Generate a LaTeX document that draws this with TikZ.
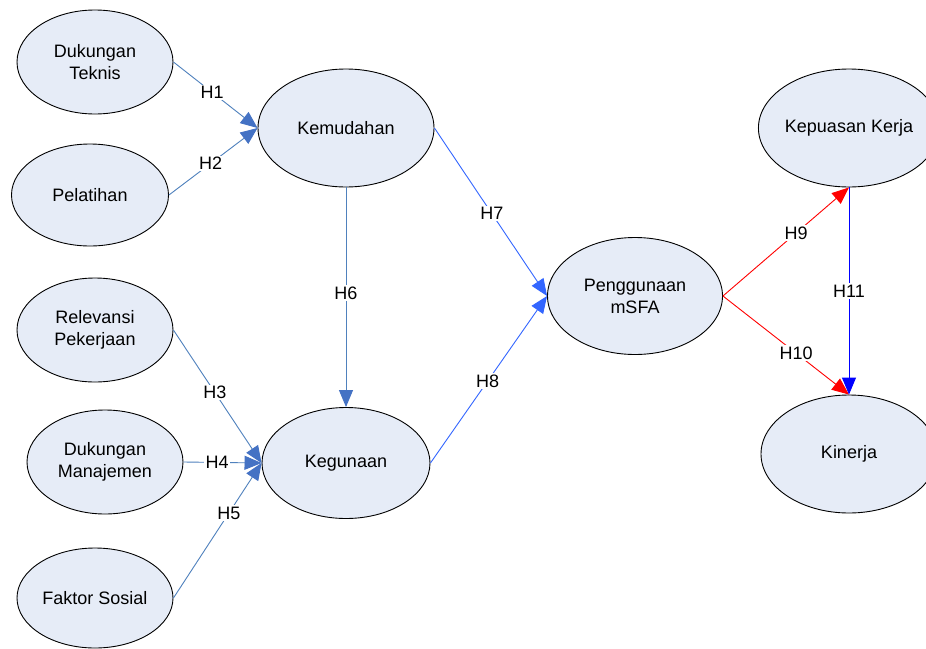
\documentclass[tikz,border=0pt]{standalone}
\usepackage{fontspec}
\setmainfont{Liberation Sans}
\usetikzlibrary{shapes.geometric,arrows.meta}
\definecolor{ellfill}{RGB}{230,236,247}
\definecolor{steel}{RGB}{79,129,189}
\definecolor{steelhead}{RGB}{68,114,196}
\definecolor{bright}{RGB}{51,102,255}
\definecolor{redc}{RGB}{255,0,0}
\definecolor{bluec}{RGB}{0,0,255}
\tikzset{
  construct/.style={ellipse, draw=black, line width=0.9pt, fill=ellfill, inner sep=0pt,
    align=center, font=\fontsize{18}{22}\selectfont},
  hlabel/.style={fill=white, inner sep=1.5pt, font=\fontsize{18}{21}\selectfont},
  steelarrow/.style={draw=steel, line width=0.9pt, -{Triangle[length=17pt,width=14pt,fill=steelhead,color=steelhead]}},
  brightarrow/.style={draw=bright, line width=0.9pt, -{Triangle[length=17pt,width=14pt,fill=bright,color=bright]}},
  redarrow/.style={draw=redc, line width=0.9pt, -{Triangle[length=17pt,width=14pt,fill=redc,color=redc]}},
  bluearrow/.style={draw=bluec, line width=0.9pt, -{Triangle[length=17pt,width=14pt,fill=bluec,color=bluec]}},
}
\begin{document}
\begin{tikzpicture}[x=1pt,y=-1pt]
\useasboundingbox (0,0) rectangle (926,648);
\fill[white] (0,0) rectangle (926,648);

\node[construct, minimum width=156pt, minimum height=104pt] (dt) at (95,62) {Dukungan\\Teknis};
\node[construct, minimum width=157pt, minimum height=102pt] (pel) at (90,195) {Pelatihan};
\node[construct, minimum width=156pt, minimum height=104pt] (rel) at (95,330) {Relevansi\\Pekerjaan};
\node[construct, minimum width=156pt, minimum height=104pt] (dm) at (105,462) {Dukungan\\Manajemen};
\node[construct, minimum width=156pt, minimum height=100pt] (fs) at (95,598) {Faktor Sosial};
\node[construct, minimum width=176pt, minimum height=118pt] (kem) at (346,128) {Kemudahan};
\node[construct, minimum width=168pt, minimum height=111pt] (keg) at (346,463) {Kegunaan};
\node[construct, minimum width=175pt, minimum height=117pt] (pen) at (635,296) {Penggunaan\\mSFA};
\node[construct, minimum width=176pt, minimum height=118pt] (kep) at (849,128) {Kepuasan Kerja};
\node[construct, minimum width=176pt, minimum height=118pt] (kin) at (849,454) {Kinerja};

\draw[steelarrow] (dt.east) -- node[hlabel, pos=0.46] (h1) {H1} (kem.west);
\draw[steelarrow] (pel.east) -- node[hlabel, pos=0.47] (h2) {H2} (kem.west);
\draw[steelarrow] (rel.east) -- node[hlabel, pos=0.47] (h3) {H3} (keg.west);
\draw[steelarrow] (dm.east) -- node[hlabel, pos=0.43] (h4) {H4} (keg.west);
\draw[steelarrow] (fs.east) -- node[hlabel, pos=0.63] (h5) {H5} (keg.west);
\draw[steelarrow] (kem.south) -- node[hlabel, pos=0.48] (h6) {H6} (keg.north);
\draw[brightarrow] (kem.east) -- node[hlabel, pos=0.51] (h7) {H7} (pen.west);
\draw[brightarrow] (keg.east) -- node[hlabel, pos=0.49] (h8) {H8} (pen.west);
\draw[redarrow] (pen.east) -- node[hlabel, pos=0.58] (h9) {H9} (kep.south);
\draw[redarrow] (pen.east) -- node[hlabel, pos=0.58] (h10) {H10} (kin.north);
\draw[bluearrow] (kep.south) -- node[hlabel, pos=0.5] (h11) {H11} (kin.north);
\end{tikzpicture}
\end{document}
